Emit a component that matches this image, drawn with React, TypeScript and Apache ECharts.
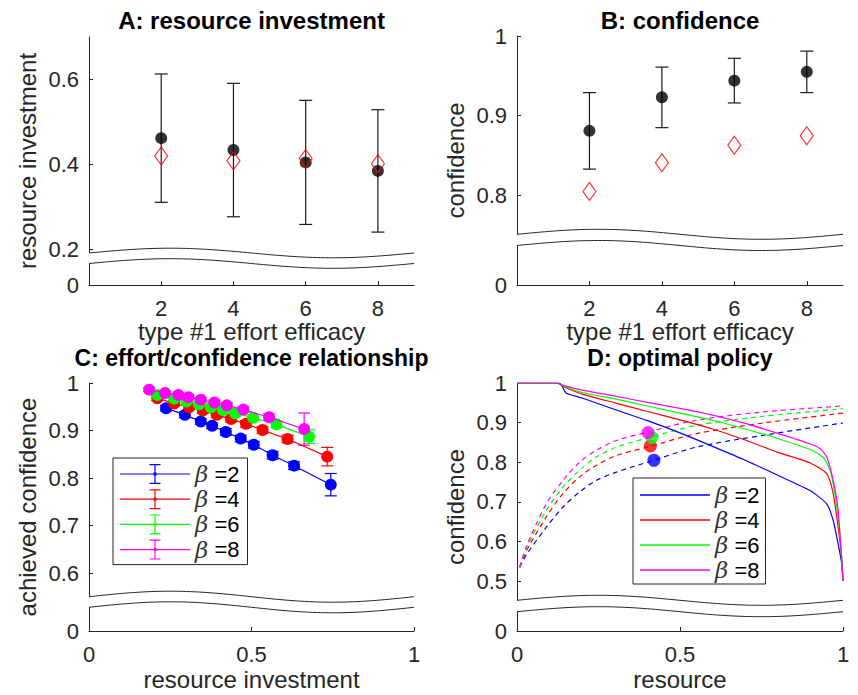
import React, { useEffect, useRef } from 'react';
import * as echarts from 'echarts';

// ---------- data ----------
const efficacy = [2, 4, 6, 8];
const investMean = [0.462, 0.434, 0.405, 0.385];
const investErr = [0.151, 0.157, 0.146, 0.144];
const investOptimal = [0.42, 0.409, 0.414, 0.402];
const confMean = [0.881, 0.923, 0.944, 0.955];
const confErr = [0.048, 0.038, 0.028, 0.026];
const confOptimal = [0.805, 0.841, 0.863, 0.875];

const betaNames = ['β =2', 'β =4', 'β =6', 'β =8'];
const betaColors = ['#0000ff', '#ff0000', '#00ff00', '#ff00ff'];

// panel C: achieved confidence vs resource investment
const effortX2 = [0.237, 0.295, 0.344, 0.379, 0.421, 0.467, 0.507, 0.565, 0.631, 0.744];
const effortY2 = [0.947, 0.933, 0.919, 0.91, 0.897, 0.883, 0.87, 0.848, 0.826, 0.786];
const effortE2 = [0.006, 0.006, 0.006, 0.006, 0.007, 0.007, 0.007, 0.008, 0.008, 0.0235];
const effortX4 = [0.21, 0.262, 0.308, 0.35, 0.393, 0.437, 0.483, 0.534, 0.611, 0.733];
const effortY4 = [0.968, 0.957, 0.949, 0.942, 0.933, 0.924, 0.914, 0.901, 0.882, 0.845];
const effortE4 = [0.005, 0.005, 0.005, 0.006, 0.006, 0.006, 0.007, 0.007, 0.008, 0.0195];
const effortX6 = [0.21, 0.262, 0.3, 0.338, 0.375, 0.412, 0.45, 0.505, 0.577, 0.677];
const effortY6 = [0.975, 0.967, 0.961, 0.955, 0.949, 0.943, 0.936, 0.927, 0.913, 0.887];
const effortE6 = [0.004, 0.004, 0.005, 0.005, 0.005, 0.006, 0.006, 0.006, 0.007, 0.0145];
const effortX8 = [0.185, 0.234, 0.275, 0.306, 0.344, 0.386, 0.424, 0.475, 0.554, 0.662];
const effortY8 = [0.986, 0.979, 0.975, 0.97, 0.965, 0.959, 0.953, 0.944, 0.928, 0.903];
const effortE8 = [0.004, 0.004, 0.004, 0.005, 0.005, 0.005, 0.006, 0.006, 0.007, 0.034];

// panel D: optimal policy (solid) and achieved confidence curves (dashed)
const policyX2 = [0, 0.13, 0.14, 0.15, 0.2, 0.3, 0.4, 0.5, 0.6, 0.7, 0.8, 0.9, 0.95, 0.97, 0.985, 0.995, 1];
const policyY2 = [1, 1, 0.99, 0.975, 0.962, 0.933, 0.905, 0.874, 0.84, 0.805, 0.767, 0.728, 0.695, 0.653, 0.594, 0.55, 0.5];
const policyX4 = [0, 0.12, 0.15, 0.2, 0.3, 0.4, 0.5, 0.6, 0.7, 0.8, 0.9, 0.95, 0.97, 0.985, 0.995, 1];
const policyY4 = [1, 1, 0.988, 0.972, 0.95, 0.928, 0.907, 0.884, 0.856, 0.825, 0.798, 0.771, 0.721, 0.636, 0.57, 0.5];
const policyX6 = [0, 0.12, 0.15, 0.2, 0.3, 0.4, 0.5, 0.6, 0.7, 0.8, 0.9, 0.94, 0.96, 0.975, 0.99, 1];
const policyY6 = [1, 1, 0.99, 0.976, 0.96, 0.942, 0.924, 0.906, 0.884, 0.86, 0.832, 0.812, 0.78, 0.721, 0.625, 0.5];
const policyX8 = [0, 0.12, 0.15, 0.2, 0.3, 0.4, 0.5, 0.6, 0.7, 0.8, 0.9, 0.93, 0.95, 0.97, 0.985, 1];
const policyY8 = [1, 1, 0.992, 0.982, 0.967, 0.951, 0.936, 0.919, 0.898, 0.873, 0.846, 0.834, 0.813, 0.754, 0.679, 0.5];

const curveX = [0.008, 0.03, 0.09, 0.141, 0.192, 0.243, 0.305, 0.4, 0.55, 0.755, 1];
const curveY2 = [0.535, 0.568, 0.636, 0.687, 0.725, 0.754, 0.775, 0.8, 0.838, 0.868, 0.899];
const curveY4 = [0.535, 0.578, 0.662, 0.721, 0.763, 0.792, 0.817, 0.838, 0.872, 0.899, 0.924];
const curveY6 = [0.535, 0.585, 0.679, 0.737, 0.78, 0.813, 0.838, 0.861, 0.893, 0.916, 0.935];
const curveY8 = [0.535, 0.59, 0.695, 0.754, 0.8, 0.83, 0.855, 0.876, 0.906, 0.927, 0.942];

// ticks
const xTicksAB = [2, 4, 6, 8];
const xTicksCD = [0, 0.5, 1];
const yTicksA = [0.2, 0.4, 0.6];
const yTicksB = [0.8, 0.9, 1];
const yTicksC = [0.6, 0.7, 0.8, 0.9, 1];
const yTicksD = [0.5, 0.6, 0.7, 0.8, 0.9, 1];

// ---------- layout (pixels) ----------
const FONT = 'Liberation Sans';
const AXC = '#262626';
const PANELS = [
  { left: 89, top: 37, width: 325, height: 248, yMax: 0.7, yZero: 0.1165, waveUp: 216, waveLo: 226.5, amp: 4.8 },
  { left: 517, top: 36, width: 326, height: 249, yMax: 1, yZero: 0.6876, waveUp: 198.3, waveLo: 209.5, amp: 5 },
  { left: 89, top: 383, width: 325, height: 248, yMax: 1, yZero: 0.478, waveUp: 213.7, waveLo: 224.3, amp: 5.5 },
  { left: 517, top: 383, width: 326, height: 248, yMax: 1, yZero: 0.374, waveUp: 217.3, waveLo: 228.7, amp: 5 },
];

const zip = (xs: number[], ys: number[]) => xs.map((x, i) => [x, ys[i]]);
const errData = (xs: number[], ys: number[], es: number[]) => xs.map((x, i) => [x, ys[i] - es[i], ys[i] + es[i]]);

const errRender = (color: string, cap: number) => (params: any, api: any) => {
  const x = api.value(0);
  const a = api.coord([x, api.value(1)]);
  const b = api.coord([x, api.value(2)]);
  const st = { stroke: color, lineWidth: 1.2 };
  return {
    type: 'group',
    children: [
      { type: 'line', shape: { x1: a[0], y1: a[1], x2: b[0], y2: b[1] }, style: st },
      { type: 'line', shape: { x1: a[0] - cap, y1: a[1], x2: a[0] + cap, y2: a[1] }, style: st },
      { type: 'line', shape: { x1: b[0] - cap, y1: b[1], x2: b[0] + cap, y2: b[1] }, style: st },
    ],
  };
};

function wavePts(L: number, R: number, M: number, a: number, x0: number, x1: number) {
  const pts: number[][] = [];
  for (let i = 0; i <= 80; i++) {
    const x = x0 + ((x1 - x0) * i) / 80;
    const t = (x - L) / (R - L);
    pts.push([x, M - a * Math.sin(2 * Math.PI * t)]);
  }
  return pts;
}

export default function App() {
  const ref = useRef<HTMLDivElement>(null);
  useEffect(() => {
    if (!ref.current) return;
    const chart = echarts.init(ref.current, null, { renderer: 'svg' });

    const yTickSets = [yTicksA, yTicksB, yTicksC, yTicksD];
    const yNames = ['resource investment', 'confidence', 'achieved confidence', 'confidence'];
    const xNames = ['type #1 effort efficacy', 'type #1 effort efficacy', 'resource investment', 'resource'];
    const titles = ['A: resource investment', 'B: confidence', 'C: effort/confidence relationship', 'D: optimal policy'];
    const titleY = [20, 20, 357.5, 357.5];

    const grid = PANELS.map((p) => ({ left: p.left, top: p.top, width: p.width, height: p.height, containLabel: false }));

    const xAxis = PANELS.map((p, i) => {
      const ab = i < 2;
      const ticks = ab ? xTicksAB : xTicksCD;
      return {
        type: 'value',
        gridIndex: i,
        min: 0,
        max: ab ? 9 : 1,
        name: xNames[i],
        nameLocation: 'middle',
        nameGap: ab ? 27 : 36,
        nameTextStyle: { fontSize: 24, fontFamily: FONT, color: AXC, lineHeight: 24 },
        axisLine: { show: true, onZero: false, lineStyle: { color: AXC, width: 1 } },
        axisTick: { show: true, inside: true, length: 4, customValues: ticks, lineStyle: { color: AXC } },
        axisLabel: {
          customValues: ticks,
          margin: 13,
          fontSize: 22,
          lineHeight: 20,
          fontFamily: FONT,
          color: AXC,
          formatter: (v: number) => String(v),
        },
        splitLine: { show: false },
      };
    });

    const yAxis = PANELS.map((p, i) => {
      const vals = [p.yZero, ...yTickSets[i]];
      return {
        type: 'value',
        gridIndex: i,
        min: p.yZero,
        max: p.yMax,
        name: yNames[i],
        nameLocation: 'middle',
        nameGap: 50,
        nameTextStyle: { fontSize: 24, fontFamily: FONT, color: AXC },
        axisLine: { show: true, lineStyle: { color: AXC, width: 1 } },
        axisTick: { show: true, inside: true, length: 4, customValues: vals, lineStyle: { color: AXC } },
        axisLabel: {
          customValues: vals,
          margin: 10,
          fontSize: 22,
          lineHeight: 20,
          fontFamily: FONT,
          color: AXC,
          formatter: (v: number) => (v <= p.yZero + 0.001 ? '0' : String(Math.round(v * 10) / 10)),
        },
        splitLine: { show: false },
      };
    });

    const series: any[] = [];
    // Panel A
    series.push({
      type: 'custom', xAxisIndex: 0, yAxisIndex: 0, z: 2,
      renderItem: errRender('#1a1a1a', 6.5),
      encode: { x: 0, y: [1, 2] },
      data: errData(efficacy, investMean, investErr),
    });
    series.push({
      type: 'scatter', xAxisIndex: 0, yAxisIndex: 0, z: 3, symbol: 'circle', symbolSize: 12,
      itemStyle: { color: '#000' }, data: zip(efficacy, investMean),
    });
    series.push({
      type: 'scatter', xAxisIndex: 0, yAxisIndex: 0, z: 4, symbol: 'diamond', symbolSize: [13, 18],
      itemStyle: { color: 'rgba(255,255,255,0)', borderColor: '#ff0000', borderWidth: 1.2 },
      data: zip(efficacy, investOptimal),
    });
    // Panel B
    series.push({
      type: 'custom', xAxisIndex: 1, yAxisIndex: 1, z: 2,
      renderItem: errRender('#1a1a1a', 6.5),
      encode: { x: 0, y: [1, 2] },
      data: errData(efficacy, confMean, confErr),
    });
    series.push({
      type: 'scatter', xAxisIndex: 1, yAxisIndex: 1, z: 3, symbol: 'circle', symbolSize: 12,
      itemStyle: { color: '#000' }, data: zip(efficacy, confMean),
    });
    series.push({
      type: 'scatter', xAxisIndex: 1, yAxisIndex: 1, z: 4, symbol: 'diamond', symbolSize: [13, 18],
      itemStyle: { color: 'rgba(255,255,255,0)', borderColor: '#ff0000', borderWidth: 1.2 },
      data: zip(efficacy, confOptimal),
    });

    // Panel C
    const effX = [effortX2, effortX4, effortX6, effortX8];
    const effY = [effortY2, effortY4, effortY6, effortY8];
    const effE = [effortE2, effortE4, effortE6, effortE8];
    betaNames.forEach((n, k) => {
      series.push({
        type: 'custom', name: 'err' + n, xAxisIndex: 2, yAxisIndex: 2, z: 2,
        renderItem: errRender(betaColors[k], 6),
        encode: { x: 0, y: [1, 2] },
        data: errData(effX[k], effY[k], effE[k]),
      });
    });
    betaNames.forEach((n, k) => {
      series.push({
        type: 'line', name: n, xAxisIndex: 2, yAxisIndex: 2, z: 3 + k,
        symbol: 'circle', symbolSize: 12, showSymbol: true,
        lineStyle: { color: betaColors[k], width: 1.2 },
        itemStyle: { color: betaColors[k] },
        data: zip(effX[k], effY[k]),
      });
    });

    // Panel D
    const polX = [policyX2, policyX4, policyX6, policyX8];
    const polY = [policyY2, policyY4, policyY6, policyY8];
    const curY = [curveY2, curveY4, curveY6, curveY8];
    betaNames.forEach((n, k) => {
      series.push({
        type: 'line', name: 'curve' + n, xAxisIndex: 3, yAxisIndex: 3, z: 2,
        symbol: 'none', smooth: 0.3,
        lineStyle: { color: betaColors[k], width: 1.2, type: [5, 4] },
        data: zip(curveX, curY[k]),
      });
    });
    betaNames.forEach((n, k) => {
      series.push({
        type: 'line', name: n, xAxisIndex: 3, yAxisIndex: 3, z: 3,
        symbol: 'none', smooth: 0.2,
        lineStyle: { color: betaColors[k], width: 1.2 },
        itemStyle: { color: betaColors[k] },
        data: zip(polX[k], polY[k]),
      });
    });
    series.push({
      type: 'scatter', name: 'optimal', xAxisIndex: 3, yAxisIndex: 3, z: 5,
      symbol: 'circle', symbolSize: 13,
      data: investOptimal.map((x, i) => ({ value: [x, confOptimal[i]], itemStyle: { color: betaColors[i] } })),
    });

    // graphics: titles + axis breaks
    const graphic: any[] = [];
    PANELS.forEach((p, i) => {
      graphic.push({
        type: 'text', x: p.left + p.width / 2, y: titleY[i], z: 60,
        style: { text: titles[i], fontSize: i < 2 ? 24 : 23, lineHeight: 20, fontWeight: 'bold', fontFamily: FONT, fill: '#000', align: 'center', verticalAlign: 'middle' },
      });
      const L = p.left, R = p.left + p.width;
      const up = p.top + p.waveUp, lo = p.top + p.waveLo;
      const band = [...wavePts(L, R, up, p.amp, L - 4, R + 1), ...wavePts(L, R, lo, p.amp, L - 4, R + 1).reverse()];
      graphic.push({ type: 'polygon', z: 50, shape: { points: band }, style: { fill: '#fff', stroke: 'none' } });
      graphic.push({ type: 'polyline', z: 51, shape: { points: wavePts(L, R, up, p.amp, L, R) }, style: { stroke: AXC, lineWidth: 1, fill: 'none' } });
      graphic.push({ type: 'polyline', z: 51, shape: { points: wavePts(L, R, lo, p.amp, L, R) }, style: { stroke: AXC, lineWidth: 1, fill: 'none' } });
    });

    const iconC = 'path://M0 12.4H70V13.6H0Z M34.4 3H35.6V23H34.4Z M29.5 3H40.5V4.2H29.5Z M29.5 21.8H40.5V23H29.5Z M33.5 11.5H36.5V14.5H33.5Z';
    const iconD = 'path://M0 0H70V1.4H0Z';
    const legendText = {
      fontSize: 22,
      lineHeight: 24,
      fontFamily: FONT,
      color: '#000',
      rich: { g: { fontSize: 23, lineHeight: 24, fontStyle: 'italic', fontFamily: 'DejaVu Serif', color: '#333' } },
    };
    const legFmt = (name: string) => '{g|β}' + name.slice(1);
    const legendBase = {
      orient: 'vertical', itemWidth: 70, itemHeight: 26, itemGap: 1.2,
      borderColor: AXC, borderWidth: 1, backgroundColor: '#fff', borderRadius: 0,
      selectedMode: false, formatter: legFmt, textStyle: legendText,
      itemStyle: { borderWidth: 0 }, z: 20,
    };

    chart.setOption({
      animation: false,
      backgroundColor: '#fff',
      textStyle: { fontFamily: FONT },
      grid,
      xAxis,
      yAxis,
      legend: [
        { ...legendBase, left: 113, top: 458, padding: [4, 8, 3, 7], data: betaNames.map((n) => ({ name: n, icon: iconC })) },
        { ...legendBase, left: 633, top: 478, padding: [5, 6, 2, 7], itemGap: 1, data: betaNames.map((n) => ({ name: n, icon: iconD })) },
      ],
      series,
      graphic,
    });
    return () => chart.dispose();
  }, []);
  return <div ref={ref} style={{ position: 'absolute', left: 0, top: 0, width: 858, height: 695 }} />;
}
